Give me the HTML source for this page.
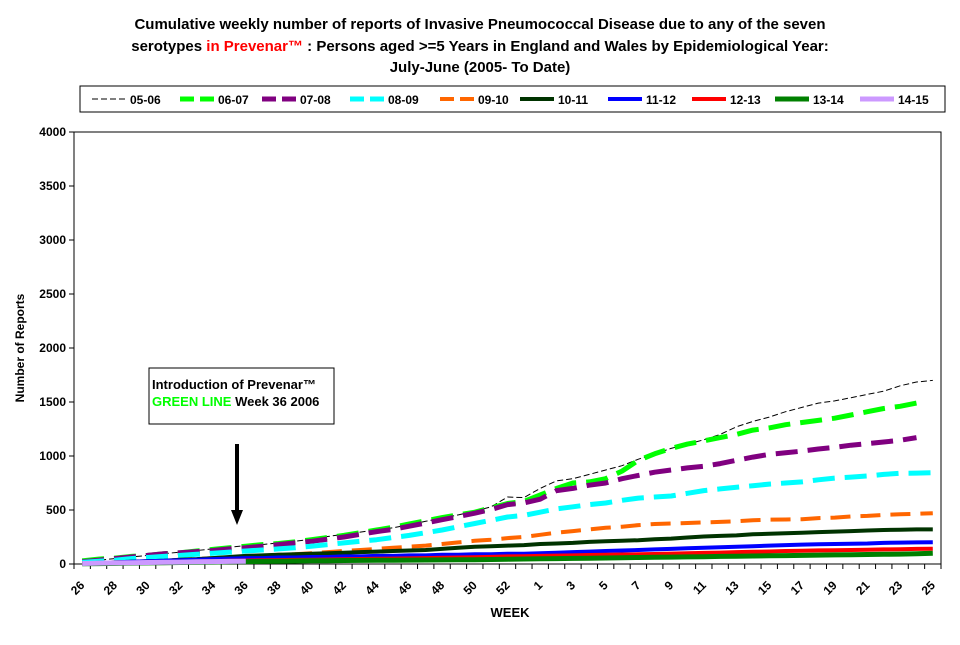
<!DOCTYPE html>
<html><head><meta charset="utf-8"><style>
body{margin:0;background:#fff;}
svg text{font-family:"Liberation Sans",Arial,sans-serif;}
</style></head><body>
<svg id="chart" width="960" height="640" xmlns="http://www.w3.org/2000/svg">
<g font-weight="bold" font-size="15" text-anchor="middle">
<text x="480" y="29">Cumulative weekly number of reports of Invasive Pneumococcal Disease due to any of the seven</text>
<text x="480" y="51">serotypes <tspan fill="#ff0000">in Prevenar™</tspan>  :  Persons aged &gt;=5 Years in England and Wales by Epidemiological Year:</text>
<text x="480" y="72">July-June (2005- To Date)</text>
</g>
<rect x="80" y="86" width="865" height="26" fill="#fff" stroke="#000" stroke-width="1"/>
<g id="legend"></g>
<rect x="74" y="132" width="867" height="432" fill="none" stroke="#000" stroke-width="1"/>
<g id="axes"></g>
<g id="series"></g>
<text transform="translate(24,348) rotate(-90)" text-anchor="middle" font-size="12" font-weight="bold">Number of Reports</text>
<text x="510" y="617" text-anchor="middle" font-size="13" font-weight="bold">WEEK</text>
<g>
<rect x="149" y="368" width="185" height="56" fill="#fff" stroke="#000" stroke-width="1"/>
<text x="152" y="389" font-size="13" font-weight="bold">Introduction of Prevenar™</text>
<text x="152" y="406" font-size="13" font-weight="bold"><tspan fill="#00ff00">GREEN LINE</tspan> Week 36 2006</text>
</g>
<g>
<line x1="237" y1="444" x2="237" y2="512" stroke="#000" stroke-width="4"/>
<polygon points="231,510 243,510 237,525" fill="#000"/>
</g>
</svg>
<script>
const weeks=[26,27,28,29,30,31,32,33,34,35,36,37,38,39,40,41,42,43,44,45,46,47,48,49,50,51,52,53,1,2,3,4,5,6,7,8,9,10,11,12,13,14,15,16,17,18,19,20,21,22,23,24,25];
const yTicks=[0,500,1000,1500,2000,2500,3000,3500,4000];
const seriesNames=["05-06","06-07","07-08","08-09","09-10","10-11","11-12","12-13","13-14","14-15"];
const s0506=[20,35,50,65,80,95,110,125,140,155,170,180,195,210,230,255,275,295,315,335,365,395,425,455,490,530,620,615,700,770,790,830,870,910,970,1020,1070,1110,1150,1200,1270,1320,1360,1410,1450,1490,1510,1540,1570,1600,1650,1685,1700];
const s0607=[30,45,55,70,80,95,105,120,135,150,165,180,190,205,225,245,265,290,315,340,370,400,430,455,480,520,560,580,640,700,750,760,790,860,960,1020,1070,1110,1140,1170,1200,1240,1260,1290,1310,1330,1350,1380,1410,1440,1460,1490,null];
const s0708=[20,35,50,65,80,95,105,115,125,140,150,165,180,195,210,230,250,275,300,320,350,380,410,440,470,505,550,565,600,680,700,730,750,790,820,850,870,890,905,930,960,990,1015,1030,1045,1065,1080,1100,1115,1130,1145,1170,null];
const s0809=[15,25,35,50,60,70,80,90,100,110,120,130,140,150,165,180,195,210,225,245,265,290,315,345,375,405,435,450,480,510,530,550,565,590,610,620,630,655,680,695,710,725,740,750,760,780,795,805,815,830,840,842,845];
const s0910=[5,10,15,20,25,30,40,45,55,60,70,75,85,90,100,110,120,130,140,150,160,170,185,200,215,225,240,250,270,290,305,320,335,345,360,370,375,380,385,390,395,405,410,412,415,425,430,440,445,455,460,465,470];
const s1011=[5,10,15,20,25,30,40,45,55,65,75,80,85,90,95,100,105,110,115,120,125,130,140,150,160,165,170,175,185,190,195,205,210,215,220,230,235,245,255,260,265,275,280,285,290,295,300,305,310,315,318,320,320];
const s1112=[5,10,15,20,25,30,35,40,45,50,55,55,60,60,65,65,70,70,75,75,80,80,85,85,90,90,95,95,100,105,110,115,120,125,130,135,140,145,150,155,160,165,170,175,180,182,185,188,190,195,198,200,202];
const s1213=[3,6,9,12,15,18,21,24,27,30,32,34,36,38,40,42,44,46,48,50,52,55,58,60,63,66,70,72,75,78,80,83,86,88,90,93,96,100,103,106,110,113,116,120,123,126,128,130,132,135,137,140,142];
const s1314=[2,4,6,8,10,12,14,16,18,20,22,24,26,28,30,31,32,33,34,35,36,37,38,39,40,42,44,46,48,50,52,54,56,58,60,62,64,66,68,70,72,74,76,78,80,82,84,86,88,90,92,95,100];
const s1415=[5,8,10,12,14,16,18,20,22,24,26];
const NS="http://www.w3.org/2000/svg";
const X0=74,X1=941,Y0=564,Y1=132,YMAX=4000;
const step=(X1-X0)/weeks.length;
function xs(i){return X0+step*(i+0.5);}
function ys(v){return Y0-(v/YMAX)*(Y0-Y1);}
function mk(tag,attrs,parent){const e=document.createElementNS(NS,tag);for(const k in attrs)e.setAttribute(k,attrs[k]);parent.appendChild(e);return e;}
const axes=document.getElementById('axes');
yTicks.forEach(t=>{
  const y=ys(t);
  const l=mk('line',{x1:X0-5,x2:X0,y1:y,y2:y,stroke:'#000'},axes);
  
  
  const tx=mk('text',{x:X0-8,y:y+4,'text-anchor':'end','font-size':'12','font-weight':'bold'},axes);
  tx.textContent=t;
  
  
});
for(let i=0;i<=weeks.length;i++){
  const x=X0+step*i;
  const l=mk('line',{x1:x,x2:x,y1:Y0,y2:Y0+5,stroke:'#000'},axes);
  
  
}
weeks.forEach((w,i)=>{
  if(i%2!==0)return;
  const x=xs(i),y=Y0+14;
  const tx=mk('text',{x:x+3,y:y+8,'text-anchor':'end','font-size':'12','font-weight':'bold',transform:`rotate(-45 ${x+3} ${y+8})`},axes);
  tx.textContent=w;
  
  
});
const styles=[
 {c:'#000000',w:1,d:'6 3'},
 {c:'#00ff00',w:5,d:'22 10'},
 {c:'#800080',w:5,d:'22 10'},
 {c:'#00ffff',w:5,d:'22 10'},
 {c:'#ff6600',w:4,d:'20 10'},
 {c:'#003300',w:4,d:''},
 {c:'#0000ff',w:4,d:''},
 {c:'#ff0000',w:4,d:''},
 {c:'#008000',w:5,d:''},
 {c:'#cc99ff',w:5,d:''}
];
const data=[s0506,s0607,s0708,s0809,s0910,s1011,s1112,s1213,s1314,s1415];
const sg=document.getElementById('series');
for(let k=0;k<data.length;k++){
  const arr=data[k];let d='';
  arr.forEach((v,i)=>{if(v==null)return;d+=(d?'L':'M')+xs(i).toFixed(1)+','+ys(v).toFixed(1);});
  const p=mk('path',{d:d,fill:'none',stroke:styles[k].c,'stroke-width':styles[k].w,'stroke-linejoin':'round'},sg);
  if(styles[k].d)p.setAttribute('stroke-dasharray',styles[k].d);
  
  
}
const legX=[92,180,262,350,440,520,608,692,775,860];
const lg=document.getElementById('legend');
seriesNames.forEach((n,k)=>{
  const g=mk('g',{},lg);
  
  
  const ln=mk('line',{x1:legX[k],x2:legX[k]+34,y1:99,y2:99,stroke:styles[k].c,'stroke-width':styles[k].w},g);
  if(styles[k].d)ln.setAttribute('stroke-dasharray',k===0?'6 3':'14 6');
  const t=mk('text',{x:legX[k]+38,y:104,'font-size':'12','font-weight':'bold'},g);
  t.textContent=n;
});
</script>
</body></html>
